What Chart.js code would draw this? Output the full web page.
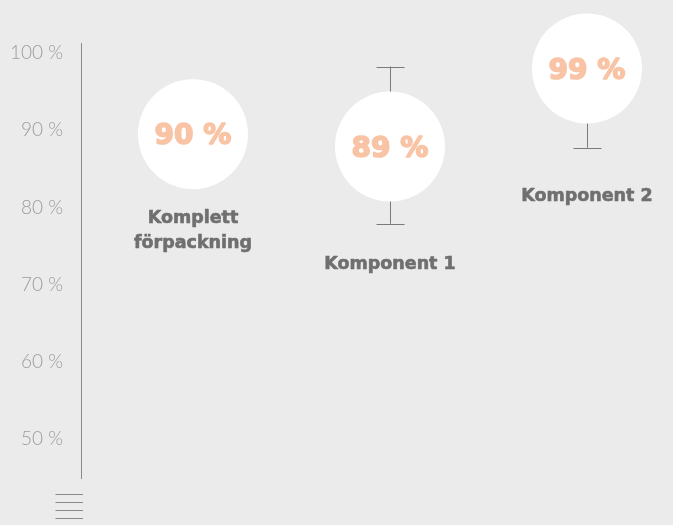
<!DOCTYPE html>
<html>
<head>
<meta charset="utf-8">
<script src="https://cdn.jsdelivr.net/npm/chart.js@4"></script>
<style>
  html, body { margin: 0; padding: 0; background: #ebebeb; }
  #wrap { width: 673px; height: 525px; position: relative; }
</style>
</head>
<body>
<div id="wrap"><canvas id="c" width="673" height="525"></canvas></div>
<script>
// ---- data ----
const categories = [["Komplett", "förpackning"], ["Komponent 1"], ["Komponent 2"]];
const valueLabels = ["90 %", "89 %", "99 %"];
const positions = [89.5, 87.9, 98.0];       // circle centre values (%)
const errHigh = [null, 98.25, null];
const errLow = [null, 77.9, 87.75];
const tickValues = [50, 60, 70, 80, 90, 100];

// ---- style ----
const labelOffsets = [84, 118, 128]; // px below circle centre for category label
const RADIUS = 55;

const errorBars = {
  id: 'errorBars',
  beforeDatasetsDraw(chart) {
    const ctx = chart.ctx, xs = chart.scales.x, ys = chart.scales.y;
    ctx.save();
    ctx.strokeStyle = '#7a7a7a';
    ctx.lineWidth = 1;
    positions.forEach((v, i) => {
      if (errHigh[i] == null && errLow[i] == null) return;
      const x = Math.round(xs.getPixelForValue(i)) + 0.5;
      const hi = errHigh[i] != null ? ys.getPixelForValue(errHigh[i]) : ys.getPixelForValue(v);
      const lo = errLow[i] != null ? ys.getPixelForValue(errLow[i]) : ys.getPixelForValue(v);
      ctx.beginPath();
      ctx.moveTo(x, hi); ctx.lineTo(x, lo); ctx.stroke();
      [errHigh[i], errLow[i]].forEach(e => {
        if (e == null) return;
        const y = Math.round(ys.getPixelForValue(e)) + 0.5;
        ctx.beginPath(); ctx.moveTo(x - 14, y); ctx.lineTo(x + 14, y); ctx.stroke();
      });
    });
    ctx.restore();
  },
  afterDatasetsDraw(chart) {
    const ctx = chart.ctx, xs = chart.scales.x, ys = chart.scales.y;
    ctx.save();
    ctx.textAlign = 'center';
    ctx.textBaseline = 'middle';
    ctx.lineJoin = 'round';
    positions.forEach((v, i) => {
      const x = xs.getPixelForValue(i), y = ys.getPixelForValue(v);
      ctx.fillStyle = '#f9c4a5';
      ctx.strokeStyle = '#f9c4a5';
      ctx.lineWidth = 1.6;
      ctx.font = 'bold 28px "DejaVu Sans"';
      ctx.strokeText(valueLabels[i], x, y + 3);
      ctx.fillText(valueLabels[i], x, y + 3);
      ctx.fillStyle = '#6f6f6f';
      ctx.strokeStyle = '#6f6f6f';
      ctx.lineWidth = 0.6;
      ctx.font = 'bold 17.5px "DejaVu Sans"';
      categories[i].forEach((line, k) => {
        ctx.strokeText(line, x, y + labelOffsets[i] + k * 25);
        ctx.fillText(line, x, y + labelOffsets[i] + k * 25);
      });
    });
    // menu icon
    ctx.strokeStyle = '#8a8a8a';
    ctx.lineWidth = 1;
    [494.5, 502.5, 510.5, 518.5].forEach(yy => {
      ctx.beginPath(); ctx.moveTo(55.5, yy); ctx.lineTo(83, yy); ctx.stroke();
    });
    ctx.restore();
  }
};

new Chart(document.getElementById('c'), {
  type: 'scatter',
  data: {
    datasets: [{
      data: positions.map((v, i) => ({ x: i, y: v })),
      pointRadius: RADIUS,
      pointHoverRadius: RADIUS,
      pointBackgroundColor: '#ffffff',
      pointBorderWidth: 0,
      pointBorderColor: 'rgba(0,0,0,0)',
      clip: false
    }]
  },
  options: {
    responsive: false,
    animation: false,
    layout: { autoPadding: false, padding: { top: 43, bottom: 47, left: 0, right: 0 } },
    plugins: { legend: { display: false }, tooltip: { enabled: false } },
    scales: {
      x: { type: 'linear', display: false, min: -0.5685, max: 2.4367 },
      y: {
        min: 45.0, max: 101.3,
        afterBuildTicks(axis) { axis.ticks = tickValues.map(v => ({ value: v })); },
        afterFit(axis) { axis.width = 81; },
        grid: { display: false, drawTicks: false },
        border: { display: true, color: '#8a8a8a', width: 1 },
        ticks: {
          padding: 18,
          color: '#9c9c9c',
          font: { family: 'Lato', weight: 300, size: 19 },
          callback: v => v + ' %'
        }
      }
    }
  },
  plugins: [errorBars]
});
</script>
</body>
</html>
